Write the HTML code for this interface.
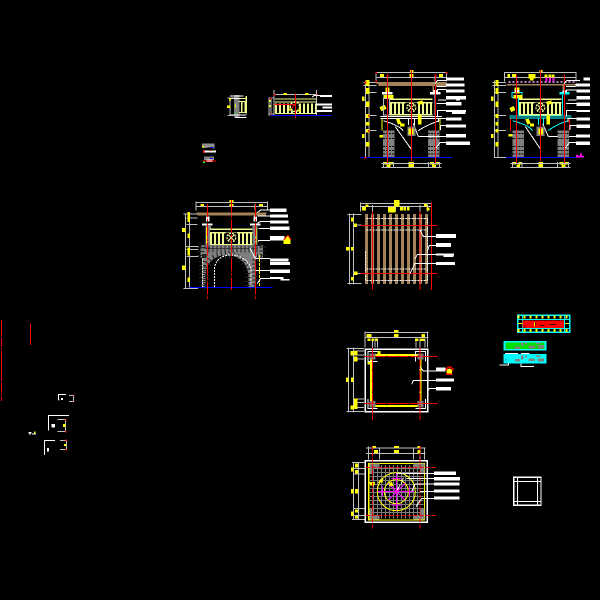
<!DOCTYPE html>
<html><head><meta charset="utf-8"><style>
html,body{margin:0;padding:0;background:#000;width:600px;height:600px;overflow:hidden}
svg{display:block}
svg *{shape-rendering:crispEdges}
.g{stroke:#c0c0c0;stroke-width:3;fill:none}
.w{stroke:#fff;stroke-width:3;fill:none}
.r{stroke:#f00;stroke-width:3;fill:none}
.rt{stroke:#f00;stroke-width:3;fill:none;stroke-dasharray:40 5 8 5}
.b{stroke:#00f;stroke-width:3;fill:none}
.br{stroke:#a5835a;stroke-width:5;fill:none}
.c{stroke:#0ff;stroke-width:3;fill:none}
.m{stroke:#f0f;stroke-width:3;fill:none}
.yl{stroke:#ff0;stroke-width:4;fill:none}
.y{fill:#ff0}.wf{fill:#fff}.rf{fill:#f00}.gf{fill:#808080}
</style></head><body>
<svg width="600" height="600" viewBox="0 0 600 600" xmlns="http://www.w3.org/2000/svg">
<rect width="600" height="600" fill="#000"/>
<defs>
<g id="rail">
<rect x="120" y="115" width="128" height="50" fill="#000"/>
<path d="M120 128H248M120 118H248" stroke="#eef990" stroke-width="4" fill="none"/>
<path d="M120 147H248" stroke="#eef990" stroke-width="34" stroke-dasharray="6 6" fill="none"/>
<path d="M120 164H248" stroke="#eef990" stroke-width="4"/>
<rect x="167" y="128" width="34" height="34" fill="#000"/>
<circle cx="184" cy="143" r="13" fill="none" stroke="#eef990" stroke-width="4" stroke-dasharray="6 3"/>
<path d="M175 134L193 152M193 134L175 152" stroke="#eef990" stroke-width="3"/>
</g>
<g id="pier">
<rect width="35" height="80" fill="#808080"/>
<path d="M0 9H35M0 24H35M0 48H35M0 60H35M0 70H35" stroke="#000" stroke-width="3" stroke-dasharray="6 3"/>
</g>
</defs>

<!-- view 1 -->
<g transform="translate(350,60) scale(.33333)">
<path class="g" d="M78 38H290M78 52H290M78 36V64M112 44V64M184 36V64M255 44V64M290 36V64"/>
<path class="g" d="M47 62V294M57 62V294M40 67H80M40 77H80M47 98H80M47 167H80M47 212H80M47 293H80"/>
<path class="y" d="M90 42h12v9H90zM180 30h11v8h-11zM178 42h13v9h-13zM267 42h12v9h-12zM48 60h10v18H48zM48 84h10v18H48zM48 125h10v16H48zM36 110h8v13h-8zM48 162h10v12H48zM48 186h10v10H48zM48 207h10v10H48zM36 222h8v12h-8zM48 246h10v14H48z"/>
<path class="br" d="M80 69H290M86 75H288" stroke-width="3"/>
<path class="br" d="M250 76V98"/>
<rect x="96" y="96" width="32" height="7" fill="#fff"/><rect x="240" y="96" width="32" height="7" fill="#fff"/>
<rect x="107" y="82" width="12" height="14" fill="#ff0"/><rect x="250" y="90" width="12" height="6" fill="#fff"/>
<path class="y" d="M100 105h30v10h-30zM88 142l16-8 6 12-16 8z"/>
<use href="#rail"/>
<path d="M100 115H118V165H100zM255 105V165" fill="none" stroke="#c0c0c0" stroke-width="3"/>
<path class="w" d="M92 170H276M92 175H276" stroke-width="3"/>
<path d="M96 175V212M270 175V212" stroke="#ff0" stroke-width="4"/>
<path class="w" d="M100 182C125 190 148 198 160 212M175 175V195M193 175V195M268 182C245 190 225 198 205 212M136 200L184 268M205 230H288M190 190L205 230" stroke-width="3"/>
<path class="y" d="M138 178l10-2 6 14-10 4zM150 190h14v10h-14zM176 205h14v18h-14zM204 165h10v28h-10zM204 125l14-4 2 10-14 4zM88 225h26v7H88zM100 306h12v8h-12zM116 306h14v8h-14zM110 314h12v9h-12zM176 306h16v18h-16zM240 306h12v8h-12zM246 314h12v9h-12zM258 306h10v8h-10z"/>
<use href="#pier" x="99" y="212"/><use href="#pier" x="234" y="212"/>
<rect x="172" y="200" width="24" height="28" fill="#808080"/>
<path class="y" d="M176 205h14v18h-14z"/>
<path class="b" d="M30 293H306"/>
<path class="r" d="M184 30V305M112 44V310M256 44V310"/>
<path class="g" d="M94 310H274M94 322H274M100 306V324M130 306V324M235 306V324M268 306V324"/>
<path class="wf" d="M288 52h54v10h-54zM288 70h56v10h-56zM288 88h56v10h-56zM288 108h60v10h-60zM318 118h12v4h-12zM288 126h46v11h-46zM288 150h60v6h-60zM306 156h40v6h-40zM288 172h46v10h-46zM288 193h60v10h-60zM288 222h60v10h-60zM288 244h72v11h-72z"/>
<path class="w" d="M254 72L262 62H288M260 80H288M262 98V88H288M264 120H288M260 130H288M262 170V152H288M266 186V176H288M272 210V197H288M205 230H288M258 264L270 248H288"/>
<path class="rf" d="M76 36h5v5h-5zM287 36h5v5h-5zM76 62h5v5h-5zM110 44h5v5h-5zM254 44h5v5h-5zM44 65h5v5h-5zM54 165h5v5h-5zM54 210h5v5h-5zM44 291h5v5h-5z"/>
</g>

<!-- view 2 -->
<g transform="translate(480,60) scale(.33333)">
<path class="g" d="M74 38H288M74 52H288M74 36V64M110 44V64M182 36V64M253 44V64M288 36V64"/>
<path class="g" d="M44 62V294M54 62V294M38 67H78M38 77H78M44 98H78M44 167H78M44 212H78M44 293H78"/>
<path class="y" d="M82 42h8v10h-8zM96 42h12v9H96zM178 30h10v7h-10zM145 42h22v14h-22zM150 56h10v5h-10zM194 44h8v8h-8zM205 44h8v8h-8zM215 44h8v8h-8zM46 60h9v18h-9zM46 84h9v18h-9zM46 125h9v16h-9zM33 110h8v13h-8zM46 162h9v12h-9zM46 186h9v10h-9zM46 207h9v10h-9zM33 222h8v12h-8zM46 246h9v14h-9z"/>
<path d="M196 52h6v12h-6zM207 52h6v12h-6zM217 52h6v12h-6z" fill="#f0f"/>
<path d="M85 66H285" stroke="#c080c0" stroke-width="5" stroke-dasharray="6 6"/>
<path class="br" d="M80 74H286M250 76V96"/>
<rect x="96" y="97" width="30" height="16" fill="none" stroke="#0ff" stroke-width="3"/>
<rect x="238" y="96" width="30" height="7" fill="#0ff"/>
<rect x="104" y="82" width="14" height="18" fill="#ff0"/><rect x="104" y="90" width="14" height="6" fill="#fff"/><rect x="248" y="92" width="12" height="6" fill="#fff"/>
<path class="y" d="M100 105h28v10h-28zM88 144l14-6 4 12-12 6z"/>
<g transform="translate(-3,0)"><use href="#rail"/></g>
<path d="M116 113V165M248 105V165" stroke="#0ff" stroke-width="3"/>
<path class="c" d="M88 168H275M88 174H275"/>
<path d="M92 175V212M268 178V212" stroke="#f00" stroke-width="3"/>
<path class="c" d="M98 182C125 190 148 198 158 212M175 175V195M190 175V195M265 182C240 190 222 198 205 212"/>
<path class="w" d="M136 200L182 268M205 230H288M188 190L205 230"/>
<path class="y" d="M136 178l10-2 6 14-10 4zM150 190h12v10h-12zM200 165h10v28h-10zM200 125l14-4 2 10-14 4zM85 222h28v7H85zM98 306h10v8H98zM116 306h10v8h-10zM110 314h10v9h-10zM176 306h13v18h-13zM238 306h12v8h-12zM244 314h12v9h-12zM254 306h10v8h-10z"/>
<use href="#pier" x="97" y="212"/><use href="#pier" x="232" y="212"/>
<rect x="170" y="200" width="24" height="28" fill="#808080"/>
<path class="y" d="M175 205h14v18h-14z"/>
<path class="b" d="M78 293H290"/>
<path class="r" d="M182 30V305M110 44V310M254 44V310"/>
<path class="g" d="M92 310H272M92 322H272M98 306V324M126 306V324M232 306V324M266 306V324"/>
<path class="wf" d="M310 52h20v10h-20zM286 70h44v10h-44zM290 88h40v9h-40zM290 108h40v10h-40zM290 128h40v10h-40zM290 150h40v6h-40zM290 172h40v10h-40zM290 194h40v10h-40zM288 223h42v10h-42zM288 244h42v11h-42z"/>
<path class="w" d="M252 72L260 62H300M258 80H286M260 98V90H290M264 120H290M258 130H290M260 170V152H290M264 186V176H290M270 210V197H290M256 264L268 248H288"/>
<path d="M288 285h8v8h-8zM296 288h16v4h-16zM300 280h6v8h-6z" fill="#f0f"/>
</g>

<!-- view 3 -->
<g transform="translate(170,190) scale(.33333)">
<path class="g" d="M78 38H292M78 50H292M78 34V62M112 42V62M184 34V62M255 42V62M292 34V62"/>
<path class="g" d="M46 70V296M58 70V296M40 72H82M50 84H82M50 104H82M46 170H85M50 178H85M50 200H85M40 295H84"/>
<path class="y" d="M92 42h10v6H92zM178 30h13v7h-13zM178 42h13v6h-13zM267 42h12v6h-12zM52 66h8v30h-8zM52 130h8v14h-8zM36 114h10v12H36zM52 172h8v24h-8zM36 226h10v14H36zM52 262h8v14h-8z"/>
<path class="br" d="M80 70H290M82 74H288M255 74V84" stroke-width="4"/>
<rect x="96" y="100" width="32" height="7" fill="#fff"/><rect x="240" y="100" width="32" height="7" fill="#fff"/>
<rect x="108" y="80" width="11" height="14" fill="#fff"/><rect x="250" y="80" width="11" height="14" fill="#fff"/>
<rect x="107" y="108" width="16" height="60" fill="#808080"/><rect x="247" y="108" width="16" height="60" fill="#808080"/>
<path d="M109 112V160M258 112V160" stroke="#ff0" stroke-width="3"/>
<use href="#rail"/>
<rect x="108" y="165" width="155" height="10" fill="#808080"/>
<path d="M92 165h16v12h155v-12h16v38h-22v88h-22v-40c-8-42-36-55-68-55s-56 18-60 55v40H98v-88h-6z" fill="#808080"/>
<path d="M92 165h16v12h155v-12h16v38h-22v88h-22v-40c-8-42-36-55-68-55s-56 18-60 55v40H98v-88h-6z" fill="none" stroke="#222" stroke-width="22" stroke-dasharray="3 9"/>
<path d="M98 205V291M133 291V235c4-28 26-40 50-40s50 12 60 40v56" class="w" stroke-dasharray="6 3"/>
<path d="M268 195V291" stroke="#ff0" stroke-width="3" stroke-dasharray="9 3"/>
<path class="b" d="M58 293H308"/>
<path class="rt" d="M184 30V300M112 42V328M256 42V328"/>
<path class="wf" d="M300 56h50v10h-50zM300 73h54v10h-54zM300 92h56v9h-56zM300 110h58v10h-58zM300 138h44v13h-44zM300 205h56v10h-56zM300 216h60v9h-60zM300 238h60v11h-60zM300 261h40v6h-40zM332 267h26v5h-26z"/>
<path class="w" d="M262 68L272 60H300M262 78H300M262 100L270 95H300M265 115H300M265 155V152H300M240 175L256 205H300M256 242H300M262 280L272 265H300"/>
<path d="M340 152l9-13h6l7 13v10h-22z" fill="#ff0"/><path d="M341 150l10-12h5l7 12" stroke="#f00" stroke-width="3" fill="none"/>
</g>

<!-- view 4 -->
<g transform="translate(340,195) scale(.33333)">
<path d="M75 162H264" stroke="#a5835a" stroke-width="210" stroke-dasharray="9 9" fill="none"/>
<path class="w" d="M80 70H262M80 105H262M80 222H262M80 256H262M262 70V256M76 170V256" stroke-dasharray="6 3"/>
<path class="g" d="M60 25H276M60 35H276M62 22V50M97 30V50M167 22V50M240 30V50M262 30V50M275 22V50"/>
<path class="g" d="M28 55V268M40 55V268M22 58H65M40 90H65M40 235H65M22 265H65"/>
<path class="y" d="M76 28h10v8H76zM66 36h12v10H66zM162 15h16v20h-16zM144 36h22v16h-22zM180 36h9v10h-9zM191 36h7v10h-7zM201 36h8v10h-8zM252 27h10v8h-10zM260 38h8v8h-8zM33 68h7v12h-7zM42 86h9v10h-9zM18 156h10v11H18zM33 156h7v11h-7zM42 230h10v10H42zM33 246h7v10h-7z"/>
<path class="r" d="M97 50V285M240 50V285M274 22V285M62 91H292M62 235H292"/>
<path class="wf" d="M288 117h60v12h-60zM288 144h45v12h-45zM288 175h54v6h-54zM310 181h30v5h-30zM288 201h57v9h-57z"/>
<path class="w" d="M240 106L250 124H288M262 168L268 151H288M225 192L232 178H288M210 236L225 205H288"/>
</g>

<!-- view 5 -->
<g transform="translate(340,325) scale(.33333)">
<path class="g" d="M74 22H266M74 38H266M75 20V68M97 40V68M105 40V68M113 40V68M228 40V68M240 40V68M255 40V68M263 20V68"/>
<path class="g" d="M26 68V262M40 68V262M20 70H72M40 78H72M40 90H72M40 102H72M40 222H72M40 232H72M40 248H72M20 260H72"/>
<path class="y" d="M162 15h14v7h-14zM162 27h14v9h-14zM80 27h14v9H80zM82 40h9v8h-9zM95 40h7v8h-7zM105 40h7v8h-7zM225 40h10v8h-10zM245 27h10v9h-10zM240 40h14v8h-14zM32 78h8v14h-8zM42 78h10v12H42zM42 95h10v14H42zM18 158h8v13h-8zM33 158h8v13h-8zM42 220h10v32H42zM32 242h10v11H32z"/>
<rect x="76" y="73" width="187" height="187" fill="none" stroke="#fff" stroke-width="4"/>
<path class="yl" d="M93 90V235M241 90V235M93 90H241M93 243H241" style="stroke-width:6"/>
<path d="M112 78h10v14h-10zM82 108h12v10H82z" fill="#ff0"/>
<path class="w" d="M84 110V80H112M226 110V80H256V110M84 222V250H112M226 250H256V222M84 110H112"/>
<path class="gf" d="M88 85h19v19H88zM232 85h19v19h-19zM88 228h19v19H88zM232 228h19v19h-19z"/>
<path class="r" d="M97 68V285M240 68V285M74 94H292M74 235H292" style="stroke-dasharray:30 4"/>
<path class="wf" d="M288 128h28v11h-28zM288 160h54v10h-54zM288 186h45v10h-45z"/>
<path class="w" d="M240 125L250 138H288M215 178L220 166H288M263 200L268 190H288"/>
<circle cx="328" cy="140" r="9" fill="#ff0"/><path d="M318 137c1-14 20-14 21 0M318 148h20" stroke="#f00" stroke-width="5" fill="none"/>
</g>

<!-- view 6 -->
<g transform="translate(340,440) scale(.33333)">
<path class="g" d="M78 24H256M78 40H256M85 20V58M118 24V58M220 24V58M240 24V58M253 24V58M40 66V240M55 66V240M36 68H76M40 85H76M40 102H76M40 205H76M40 226H76M36 238H76"/>
<path class="y" d="M96 18h12v6H96zM102 30h12v9h-12zM162 18h15v6h-15zM162 30h15v9h-15zM232 18h10v6h-10zM232 30h10v9h-10zM33 82h7v12h-7zM45 70h9v12h-9zM45 90h9v10h-9zM33 147h7v13h-7zM45 147h9v13h-9zM33 215h7v13h-7zM45 208h9v10h-9zM45 228h9v8h-9z"/>
<rect x="76" y="62" width="186" height="185" fill="none" stroke="#fff" stroke-width="5"/>
<rect x="86" y="70" width="168" height="170" fill="none" stroke="#ff0" stroke-width="3"/>
<path d="M100 75V235M112 75V235M124 75V235M136 75V235M148 75V235M160 75V235M172 75V235M184 75V235M196 75V235M208 75V235M220 75V235M232 75V235M90 85H250M90 97H250M90 109H250M90 121H250M90 133H250M90 145H250M90 157H250M90 169H250M90 181H250M90 193H250M90 205H250M90 217H250" stroke="#808080" stroke-width="3"/>
<path class="gf" d="M84 70h34v14H98v18H84zM220 70h34v30h-14V84h-20zM84 205h14v20h20v14H84zM240 205h14v34h-34v-14h20z"/>
<circle cx="169" cy="155" r="57" fill="none" stroke="#ff0" stroke-width="3"/>
<circle cx="169" cy="155" r="36" fill="none" stroke="#ff0" stroke-width="3"/>
<path class="m" d="M169 98V212M112 155H222M145 130L195 180M195 130L145 180M155 115H185M155 195H185M128 140V170M208 140V170"/>
<path class="yl" d="M86 128H105M115 130l14-12M145 125l12 10M86 70V240"/>
<path class="y" d="M114 128l8-12 9 12zM90 130h14v7H90zM146 130l10-5 4 12-10 2z"/>
<path class="r" d="M97 20V270M240 20V270M76 82H292M76 226H292" style="stroke-dasharray:12 6"/>
<path class="w" d="M170 100H282M190 113L184 132M180 135L172 150M215 155L225 132H282M228 200L245 175H282M200 115H282M240 154H282"/>
<path class="wf" d="M282 95h66v10h-66zM282 111h78v11h-78zM282 127h76v9h-76zM282 148h76v10h-76zM282 169h76v10h-76z"/>
</g>

<!-- legend -->
<g transform="translate(490,305) scale(.33333)">
<rect x="83" y="31" width="156" height="51" fill="none" stroke="#0ff" stroke-width="4"/>
<path d="M83 43H239M83 70H239M98 31V82M224 31V82" stroke="#0ff" stroke-width="3"/>
<path d="M83 36H239M83 76H239" stroke="#ff0" stroke-width="9" stroke-dasharray="6 12"/>
<path d="M83 55H97M225 55H239" stroke="#ff0" stroke-width="3"/>
<rect x="98" y="47" width="124" height="22" fill="#f00"/>
<path d="M102 68l4-6M135 50v15M150 62h14M178 58h20" stroke="#400" stroke-width="3"/>
<rect x="132" y="52" width="3" height="12" fill="#ff0"/>
<rect x="40" y="108" width="130" height="29" fill="#0ff"/>
<rect x="46" y="113" width="118" height="19" fill="#00e000"/>
<rect x="40" y="147" width="130" height="29" fill="#0ff"/>
<path d="M46 125h4v7h-4zM75 125h15v7H75zM93 113h7v10h-7zM105 113h6v5h-6zM115 122h20v8h-20zM142 120h20v10h-20zM138 113h14v4h-14z" fill="#808080"/>
<path d="M46 160h4v10h-4zM75 162h15v8H75zM93 152h7v12h-7zM105 152h6v5h-6zM115 160h20v8h-20zM142 160h20v9h-20zM138 152h14v4h-14z" fill="#808080"/>
<path class="w" d="M45 145H84M93 145H118M93 176V184H132M28 180H56V172"/>
</g>

<!-- small details -->
<g transform="translate(195,90) scale(.33333)">
<rect x="117" y="15" width="17" height="68" fill="#808080"/>
<path d="M105 18H146M107 25H154M107 75H154M120 82H155" stroke="#fff" stroke-width="3" fill="none"/>
<path d="M132 25H154M132 35H154M132 68H154" stroke="#eef990" stroke-width="3"/>
<path d="M140 36V68M150 36V68M154 18V70" stroke="#eef990" stroke-width="4"/>
<path class="g" d="M98 24H118M98 76H118M105 24V76"/>
<path class="y" d="M96 46h10v8H96zM102 26h6v6h-6zM120 44h3v8h-3z"/><rect x="119" y="67" width="4" height="4" fill="#0f0"/>
<path class="g" d="M237 0V78M364 0V78M240 13H364M222 22V78M228 22V78M222 24H238M222 72H238"/>
<path class="y" d="M266 9h10v6h-10zM330 9h10v6h-10zM222 30h4v6h-4zM222 45h4v6h-4z"/>
<path d="M240 27H364M240 36H364M240 70H364" stroke="#eef990" stroke-width="3"/>
<path d="M240 55H364" stroke="#eef990" stroke-width="28" stroke-dasharray="6 6" fill="none"/>
<circle cx="300" cy="50" r="14" fill="#000" stroke="#eef990" stroke-width="5" stroke-dasharray="7 3"/>
<path class="y" d="M308 58h10v6h-10zM282 56h6v6h-6z"/>
<path class="r" d="M301 10V84M238 43H300M290 55L303 40"/>
<path class="rf" d="M236 12h5v4h-5zM364 12h5v4h-5zM225 23h4v4h-4zM225 70h4v4h-4z"/>
<path class="b" d="M226 76H408"/>
<path class="wf" d="M375 15h36v6h-36zM365 40h46v6h-46zM382 50h29v6h-29zM365 60h46v6h-46z"/>
<path class="w" d="M352 22L358 16H375M365 43H385"/>
<path d="M21 160h38v14H21zM53 160h6v16h-6z" fill="#909090"/>
<path d="M24 168v8M36 174h12" stroke="#000" stroke-width="3"/><path d="M47 172h8" stroke="#00f" stroke-width="3"/>
<path d="M21 168h6v5h-6z" fill="#ff0"/>
<path d="M24 180h5v9h-5z" fill="#f00"/><path d="M29 181h34v6H29z" fill="#fff"/><rect x="44" y="180" width="6" height="3" fill="#f00"/>
<path d="M27 200h30v10H27z" fill="#808080"/><path d="M45 205h8" stroke="#00f" stroke-width="3"/>
<path d="M34 208h18v8H34z" fill="#fff"/><path d="M23 213h40" stroke="#f00" stroke-width="3"/><rect x="24" y="214" width="6" height="5" fill="#0f0"/>
</g>

<!-- left -->
<g transform="translate(0,315) scale(.33333)">
<path d="M4 15V63M4 67V96M4 100V105M4 108V198M4 202V232M4 235V240M4 244V258" stroke="#f00" stroke-width="3" fill="none"/>
<path d="M91 25V90" stroke="#f00" stroke-width="3"/>
<path class="w" d="M175 255V238H198M145 347V301H207M133 420V376H165"/>
<path class="wf" d="M183 249h6v6h-6zM155 327h10v10h-10zM141 399h6v10h-6zM176 254h3v3h-3z"/>
<path class="g" d="M207 241H220V260H207M172 314H197V350H172M180 376H199V403H180"/>
<path class="y" d="M189 327h8v9h-8zM192 387h6v6h-6z"/>
<path class="rf" d="M220 239h4v4h-4zM220 258h4v4h-4zM195 312h4v4h-4zM195 348h4v4h-4zM197 374h4v4h-4zM197 402h4v4h-4z"/>
<path class="wf" d="M85 351h9v4h-9zM89 351h3v9h-3zM96 356h12v3H96z"/>
<path class="y" d="M102 350h4v6h-4z"/>
</g>

<!-- square -->
<g transform="translate(505,470) scale(.33333)">
<rect x="26" y="22" width="82" height="84" fill="none" stroke="#fff" stroke-width="4"/>
<path class="w" d="M26 34H108M26 94H108M38 22V106M97 22V106"/>
</g>
</svg>
</body></html>
